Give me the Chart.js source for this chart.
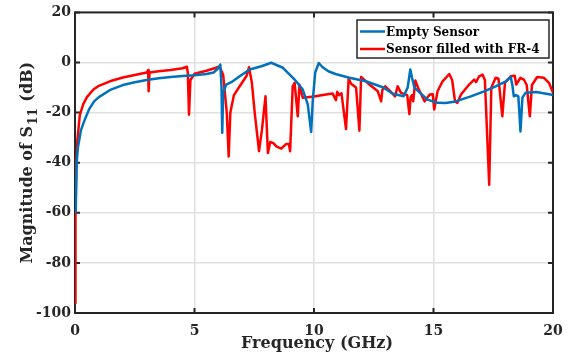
<!DOCTYPE html>
<html>
<head>
<meta charset="utf-8">
<script src="https://cdn.jsdelivr.net/npm/chart.js@4/dist/chart.umd.min.js"></script>
<style>
  html, body { margin: 0; padding: 0; background: #fff; }
  canvas { display: block; }
</style>
</head>
<body>
<canvas id="chartS11" width="578" height="358"></canvas>
<script>
// Data: frequency (GHz) and |S11| (dB)
const seriesNames = ["Empty Sensor", "Sensor filled with FR-4"];

const freqEmpty = [0.03,0.07,0.12,0.25,0.4,0.6,0.8,1.0,1.5,2.0,2.5,3.0,3.5,4.0,4.5,5.0,5.5,5.8,6.0,6.08,6.13,6.16,6.2,6.33,6.6,6.89,7.31,7.8,8.21,8.7,9.19,9.53,9.74,9.88,9.95,10.05,10.2,10.35,10.6,10.9,11.48,12.17,12.9,13.3,13.75,13.92,14.03,14.1,14.2,14.75,15.17,15.5,15.87,16.56,17.12,17.6,18.03,18.23,18.3,18.36,18.45,18.55,18.64,18.72,18.85,19.3,19.9,20];
const magEmpty  = [-60,-40,-34,-27,-23,-18.5,-15.5,-13.8,-10.8,-9,-7.9,-7,-6.3,-5.8,-5.4,-5.1,-4.6,-4,-2.2,-0.8,-10,-28,-12,-8.8,-7.5,-5.5,-2.8,-1.5,-0.1,-2.1,-6.8,-10.8,-16.8,-27.7,-15,-4,-0.2,-1.8,-3.5,-4.6,-6.1,-7.5,-10,-12.5,-13.5,-10,-2.8,-6,-10,-14.8,-16.1,-16.2,-15.7,-13.5,-11.5,-9.5,-7.5,-5.8,-9,-13.5,-13,-13.5,-27.5,-14,-12.1,-11.8,-12.8,-13];

const freqFR4 = [0.005,0.02,0.05,0.1,0.2,0.35,0.5,0.77,1.0,1.46,2.0,2.5,3.0,3.06,3.08,3.12,3.5,4.0,4.5,4.68,4.72,4.77,4.83,5.0,5.5,5.9,6.05,6.2,6.35,6.43,6.5,6.65,6.89,7.17,7.28,7.4,7.52,7.7,7.82,7.97,8.07,8.17,8.3,8.42,8.63,8.84,8.95,9.0,9.11,9.19,9.32,9.39,9.53,10.0,10.5,10.78,10.92,10.97,11.05,11.15,11.34,11.45,11.55,11.76,11.9,11.97,12.32,12.67,12.81,12.86,12.98,13.2,13.39,13.5,13.64,13.9,13.99,14.04,14.1,14.15,14.24,14.35,14.49,14.63,14.84,14.97,15.03,15.17,15.38,15.66,15.78,15.9,16.0,16.15,16.49,16.7,16.78,16.91,17.05,17.15,17.33,17.42,17.6,17.72,17.88,17.99,18.23,18.4,18.46,18.64,18.78,18.9,19.03,19.12,19.34,19.62,19.83,20];
const magFR4  = [-96,-62,-42,-31,-21,-16.5,-13.8,-10.8,-9.3,-7.5,-6,-5,-4,-3,-11.5,-4,-3.5,-3,-2.3,-1.7,-4,-20.8,-7,-4.5,-3.3,-2.1,-1.6,-5,-20,-37.5,-20,-13,-9.5,-5.5,-1.9,-8,-20.1,-35.4,-27,-13.5,-36.1,-31.7,-32.2,-33.5,-34.4,-32.5,-32.5,-35.4,-9.5,-8.1,-21.5,-8.9,-14.1,-13.6,-12.8,-12.4,-15,-11.7,-13,-12.3,-26.6,-6.4,-8.5,-10,-27.2,-5.8,-8.8,-11.5,-15.5,-11,-9.5,-11.5,-13.5,-9.5,-12.1,-13,-20.6,-14,-13,-15.5,-7.2,-10,-12.8,-15.5,-12.8,-12.7,-18.8,-11.5,-7.5,-4.6,-7,-15.5,-16.1,-12.8,-8.8,-6.8,-7.8,-5.5,-4.8,-7,-48.8,-10,-6.1,-6.5,-21.5,-8.1,-5.5,-5.3,-8.8,-6.1,-6.8,-9,-21.5,-9,-5.8,-6.1,-8.1,-12];

const xTicks = [0, 5, 10, 15, 20];
const yTicks = [20, 0, -20, -40, -60, -80, -100];

const ink = "#262626";
const serif = "'DejaVu Serif', serif";

const toPoints = (xs, ys) => xs.map((x, i) => ({ x: x, y: ys[i] }));

// frame, inward ticks, axis titles and legend, MATLAB style
const matlabAxes = {
  id: "matlabAxes",
  beforeDatasetsDraw(chart) {
    const { ctx, chartArea: a, scales } = chart;
    ctx.save();
    ctx.strokeStyle = ink;
    ctx.lineWidth = 2;
    ctx.strokeRect(a.left, a.top, a.right - a.left, a.bottom - a.top);
    ctx.beginPath();
    xTicks.forEach(v => {
      const px = scales.x.getPixelForValue(v);
      ctx.moveTo(px, a.bottom); ctx.lineTo(px, a.bottom - 5);
      ctx.moveTo(px, a.top); ctx.lineTo(px, a.top + 5);
    });
    yTicks.forEach(v => {
      const py = scales.y.getPixelForValue(v);
      ctx.moveTo(a.left, py); ctx.lineTo(a.left + 5, py);
      ctx.moveTo(a.right, py); ctx.lineTo(a.right - 5, py);
    });
    ctx.stroke();
    ctx.restore();
  },
  afterDraw(chart) {
    const { ctx, chartArea: a } = chart;
    ctx.save();
    ctx.fillStyle = ink;

    // x title
    ctx.font = "bold 16px " + serif;
    ctx.textAlign = "center";
    ctx.textBaseline = "alphabetic";
    ctx.fillText("Frequency (GHz)", (a.left + a.right) / 2 + 3, 348);

    // y title with subscript
    ctx.translate(28, (a.top + a.bottom) / 2);
    ctx.rotate(-Math.PI / 2);
    const big = "bold 16px " + serif, small = "bold 12px " + serif;
    const p1 = "Magnitude of S", p2 = "11", p3 = " (dB)";
    ctx.font = big; const w1 = ctx.measureText(p1).width, w3 = ctx.measureText(p3).width;
    ctx.font = small; const w2 = ctx.measureText(p2).width;
    let x0 = -(w1 + w2 + 2 + w3) / 2;
    ctx.textAlign = "left";
    ctx.textBaseline = "middle";
    ctx.font = big; ctx.fillText(p1, x0, 0);
    ctx.font = small; ctx.fillText(p2, x0 + w1 + 1, 6);
    ctx.font = big; ctx.fillText(p3, x0 + w1 + w2 + 2, 0);
    ctx.setTransform(1, 0, 0, 1, 0, 0);

    // legend box
    const lx = 357, ly = 20, lw = 192, lh = 38;
    ctx.fillStyle = "#fff";
    ctx.fillRect(lx, ly, lw, lh);
    ctx.strokeStyle = ink;
    ctx.lineWidth = 1.5;
    ctx.strokeRect(lx, ly, lw, lh);
    ctx.font = "bold 12px " + serif;
    ctx.textBaseline = "middle";
    ctx.textAlign = "left";
    chart.data.datasets.forEach((ds, i) => {
      const cy = ly + 11.5 + i * 17.5;
      ctx.strokeStyle = ds.borderColor;
      ctx.lineWidth = 2.5;
      ctx.beginPath(); ctx.moveTo(lx + 3, cy); ctx.lineTo(lx + 28, cy); ctx.stroke();
      ctx.fillStyle = "#000";
      ctx.fillText(ds.label, lx + 29, cy + 1);
    });
    ctx.restore();
  }
};

new Chart(document.getElementById("chartS11").getContext("2d"), {
  type: "line",
  data: {
    datasets: [
      { label: seriesNames[0], data: toPoints(freqEmpty, magEmpty), borderColor: "#0072BD", borderWidth: 2.5 },
      { label: seriesNames[1], data: toPoints(freqFR4, magFR4), borderColor: "#FF0000", borderWidth: 2.5 }
    ]
  },
  options: {
    responsive: false,
    animation: false,
    devicePixelRatio: 1,
    layout: { padding: { left: 0, right: 25, top: 12, bottom: 0 } },
    elements: { point: { radius: 0 }, line: { tension: 0, borderJoinStyle: "round" } },
    plugins: { legend: { display: false }, tooltip: { enabled: false } },
    scales: {
      x: {
        type: "linear", min: 0, max: 20,
        afterBuildTicks: s => { s.ticks = xTicks.map(v => ({ value: v })); },
        afterFit: s => { s.height = 45; },
        grid: { color: "#e0e0e0", lineWidth: 1.5, drawTicks: false },
        border: { display: false },
        ticks: { color: ink, padding: 10, font: { family: serif, size: 14, weight: "bold" } }
      },
      y: {
        min: -100, max: 20,
        afterBuildTicks: s => { s.ticks = yTicks.map(v => ({ value: v })); },
        afterFit: s => { s.width = 75; },
        grid: { color: "#e0e0e0", lineWidth: 1.5, drawTicks: false },
        border: { display: false },
        ticks: { color: ink, padding: 4, font: { family: serif, size: 14, weight: "bold" } }
      }
    }
  },
  plugins: [matlabAxes]
});
</script>
</body>
</html>
